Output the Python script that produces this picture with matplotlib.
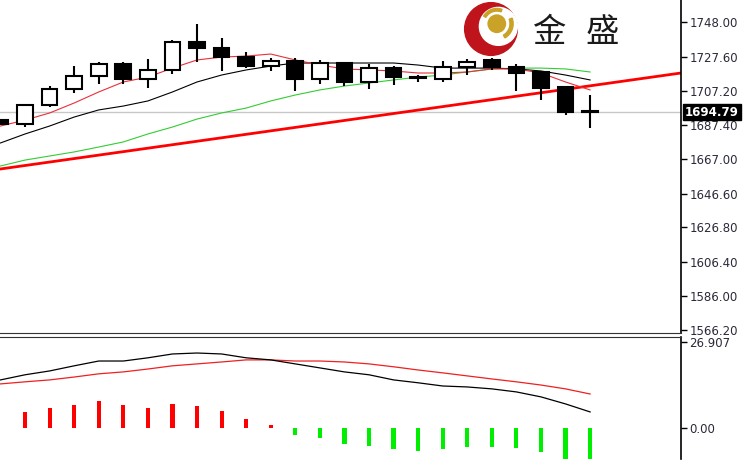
import numpy as np
import matplotlib
matplotlib.use("Agg")
import matplotlib.pyplot as plt
import matplotlib.transforms as mtransforms
from matplotlib.patches import Circle, Wedge

# candles (daily OHLC)
opens = [1690.0, 1687.8, 1699.0, 1708.4, 1716.1, 1723.2, 1714.4, 1719.7, 1736.2, 1732.7,
         1727.3, 1722.0, 1725.0, 1714.4, 1723.8, 1712.6, 1720.8, 1715.5, 1714.4, 1721.4,
         1725.6, 1721.4, 1718.5, 1709.6, 1695.2]
closes = [1687.5, 1699.0, 1708.4, 1716.1, 1723.2, 1714.4, 1719.7, 1736.2, 1732.7, 1727.3,
          1722.0, 1725.0, 1714.4, 1723.8, 1712.6, 1720.8, 1715.5, 1715.0, 1721.4, 1724.4,
          1721.4, 1717.9, 1709.0, 1694.9, 1694.79]
highs = [1691.0, 1699.2, 1710.2, 1722.0, 1724.4, 1724.4, 1726.2, 1737.4, 1746.8, 1738.6,
         1730.3, 1726.7, 1726.7, 1725.6, 1724.4, 1723.2, 1722.0, 1716.7, 1725.0, 1726.2,
         1726.7, 1723.2, 1719.1, 1709.6, 1704.9]
lows = [1687.0, 1686.0, 1697.8, 1706.1, 1711.4, 1711.4, 1709.0, 1717.3, 1724.4, 1719.1,
        1720.8, 1719.1, 1707.3, 1711.4, 1710.2, 1708.4, 1710.8, 1712.6, 1712.6, 1716.7,
        1719.7, 1707.3, 1702.0, 1693.1, 1685.4]

# moving averages
ma_red = [1686.6, 1690.1, 1694.3, 1700.2, 1706.7, 1712.6, 1715.5, 1720.8, 1725.6, 1727.3,
          1727.9, 1729.1, 1725.6, 1722.6, 1720.3, 1719.7, 1719.1, 1717.9, 1717.9, 1718.5,
          1720.3, 1720.3, 1717.9, 1712.6, 1707.9]
ma_black = [1676.6, 1681.9, 1686.6, 1691.9, 1696.1, 1698.4, 1701.4, 1706.7, 1712.6, 1716.7,
            1719.7, 1722.0, 1723.8, 1723.8, 1723.8, 1723.8, 1723.8, 1722.6, 1720.8, 1720.8,
            1720.8, 1720.3, 1719.1, 1716.7, 1713.8]
ma_green = [1663.0, 1666.5, 1668.9, 1671.3, 1674.2, 1677.2, 1681.9, 1686.0, 1690.7, 1694.3,
            1697.2, 1701.4, 1704.9, 1707.9, 1710.2, 1712.0, 1713.8, 1715.5, 1716.7, 1718.5,
            1720.3, 1720.8, 1720.8, 1720.3, 1718.5]

trend_x = [-0.02, 27.7]
trend_y = [1661.2, 1717.9]
last_price = 1694.79

price_ticks = [1748.00, 1727.60, 1707.20, 1687.40, 1667.00, 1646.60, 1626.80, 1606.40, 1586.00, 1566.20]

# MACD panel
macd_line = [15.0, 16.6, 17.8, 19.4, 20.9, 20.9, 21.9, 23.1, 23.4, 23.1, 21.9, 21.25, 20.0,
             18.75, 17.5, 16.6, 15.0, 14.1, 13.1, 12.8, 12.2, 11.25, 9.7, 7.5, 5.0]
signal_line = [13.75, 14.4, 15.0, 15.9, 16.9, 17.5, 18.4, 19.4, 20.0, 20.6, 21.25, 21.25, 20.9,
               20.9, 20.6, 20.0, 19.1, 18.1, 17.2, 16.25, 15.3, 14.4, 13.4, 12.2, 10.6]
hist_idx = list(range(1, 25))
hist_vals = [5.0, 6.25, 7.2, 8.4, 7.2, 6.25, 7.5, 6.9, 5.3, 2.8, 0.8,
             -2.2, -3.1, -5.0, -5.6, -6.6, -7.2, -6.6, -5.9, -5.9, -6.25, -7.5, -9.6, -9.6]
macd_ticks = [26.907, 0.0]

W, H = 748, 465
LABEL_COLOR = "#2a2a3a"


def style_axis(ax, ticks, fmt):
    for side in ["left", "top"]:
        ax.spines[side].set_visible(False)
    ax.spines["right"].set_linewidth(1.2)
    ax.set_xticks([])
    ax.yaxis.tick_right()
    ax.set_yticks(ticks)
    ax.set_yticklabels([fmt.format(t) for t in ticks])
    ax.tick_params(axis="y", direction="out", length=4, width=1, pad=2,
                   labelsize=8.5, labelcolor=LABEL_COLOR)


def main():
    fig = plt.figure(figsize=(W / 100, H / 100), dpi=100)
    right = 681 / W
    ax1 = fig.add_axes([0, 1 - 333 / H, right, 333 / H])
    ax2 = fig.add_axes([0, 1 - 459 / H, right, (459 - 337) / H])

    x = np.arange(len(opens))
    o, c = np.array(opens), np.array(closes)

    # price panel
    ax1.axhline(last_price, color="#c8c8c8", lw=1, zorder=1)
    ax1.plot(trend_x, trend_y, color="#ff0000", lw=2, zorder=2)
    ax1.plot(x, ma_green, color="#33cc33", lw=0.8, zorder=3)
    ax1.plot(x, ma_black, color="black", lw=0.8, zorder=3)
    ax1.plot(x, ma_red, color="#e8303a", lw=0.8, zorder=3)
    ax1.vlines(x, lows, highs, color="black", lw=1.5, zorder=4)
    body_bot = np.minimum(o, c)
    body_h = np.abs(c - o)
    colors = ["black" if cl < op else "white" for op, cl in zip(o, c)]
    ax1.bar(x, body_h, bottom=body_bot, width=0.64, color=colors,
            edgecolor="black", linewidth=1.5, zorder=5)
    ax1.set_xlim(-0.02, 27.7)
    ax1.set_ylim(1564.4, 1761.0)
    style_axis(ax1, price_ticks, "{:.2f}")
    ax1.spines["bottom"].set_color("#333333")

    trans = mtransforms.blended_transform_factory(ax1.transAxes, ax1.transData)
    ax1.text(1.006, last_price, f"{last_price:.2f}", transform=trans, ha="left", va="center",
             fontsize=8.5, color="white", fontweight="bold",
             bbox=dict(facecolor="black", edgecolor="black", pad=1.2), zorder=10, clip_on=False)

    # MACD panel
    hcol = ["#ff0000" if v > 0 else "#00ee00" for v in hist_vals]
    ax2.bar(hist_idx, hist_vals, width=0.17, color=hcol)
    ax2.plot(x, signal_line, color="#ee2020", lw=0.9)
    ax2.plot(x, macd_line, color="black", lw=0.9)
    ax2.set_xlim(-0.02, 27.7)
    ax2.set_ylim(-9.7, 28.4)
    style_axis(ax2, macd_ticks, "{}")
    ax2.set_yticklabels(["26.907", "0.00"])
    ax2.spines["bottom"].set_visible(False)
    ax2.spines["top"].set_visible(True)
    ax2.spines["top"].set_color("#333333")

    # logo
    lax = fig.add_axes([462 / W, 1 - 58 / H, 58 / W, 58 / H])
    lax.set_xlim(-1.1, 1.1)
    lax.set_ylim(-1.1, 1.1)
    lax.set_aspect("equal")
    lax.axis("off")
    lax.add_patch(Circle((0, 0), 1.0, color="#c0141c"))
    lax.add_patch(Circle((0.28, 0.1), 0.72, color="white"))
    lax.add_patch(Circle((0.22, 0.2), 0.33, color="#c9a227"))
    lax.add_patch(Wedge((0.22, 0.2), 0.62, -60, 20, width=0.12, color="#c9a227"))
    lax.add_patch(Wedge((0.22, 0.2), 0.58, 70, 150, width=0.1, color="#c9a227"))

    fig.text(549 / W, 1 - 33 / H, "金", fontsize=24, family=["Noto Sans CJK SC", "DejaVu Sans"],
             color="#1a1a1a", ha="center", va="center")
    fig.text(602 / W, 1 - 33 / H, "盛", fontsize=24, family=["Noto Sans CJK SC", "DejaVu Sans"],
             color="#1a1a1a", ha="center", va="center")

    fig.savefig("out.png", dpi=100)


if __name__ == "__main__":
    main()
